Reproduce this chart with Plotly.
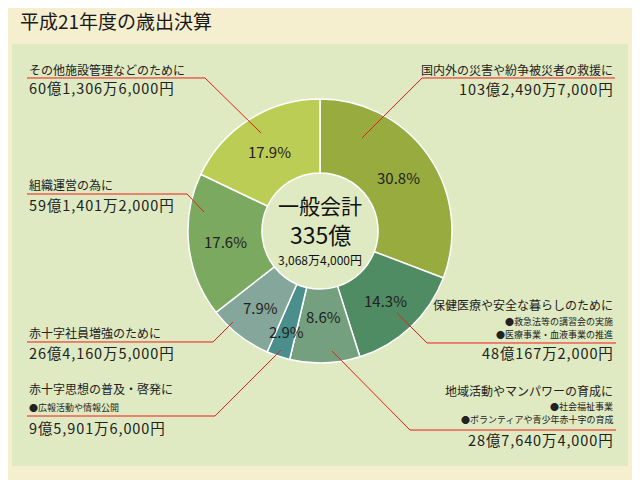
import math
import plotly.graph_objects as go

# 平成21年度 歳出決算 (一般会計)
purposes = ['国内外の災害や紛争被災者の救援に',
            '保健医療や安全な暮らしのために',
            '地域活動やマンパワーの育成に',
            '赤十字思想の普及・啓発に',
            '赤十字社員増強のために',
            '組織運営の為に',
            'その他施設管理などのために']
details = [[],
           ['●救急法等の講習会の実施', '●医療事業・血液事業の推進'],
           ['●社会福祉事業', '●ボランティアや青少年赤十字の育成'],
           ['●広報活動や情報公開'],
           [],
           [],
           []]
amounts = [10324907000, 4801672000, 2876404000, 959016000,
           2641605000, 5914012000, 6013066000]
colors = ['#97ab3e', '#4f8b63', '#74a080', '#4a8f8b', '#85a69b', '#7aa95f', '#bccd55']
total_label = ['一般会計', '335億', '3,068万4,000円']

W, H = 640, 480
OFF = 8  # page body margin
CX, CY, R = 320, 231, 132
FONT = 'Noto Sans CJK JP'
TXT = '#222222'


def px(x, y):
    return (x - OFF) / W, 1 - (y - OFF) / H


def yen(v):
    oku, rem = divmod(v, 100000000)
    man, rest = divmod(rem, 10000)
    s = f'{oku}億{man:,}万{rest:,}円'
    return '\u200a'.join(s)


def note(x, y, text, size, anchor='center', color=TXT):
    ax, ay = px(x, y)
    return dict(x=ax, y=ay, xref='paper', yref='paper', text=text, showarrow=False,
                xanchor=anchor, yanchor='middle', font=dict(family=FONT, size=size, color=color))


cx0, cy0 = px(CX - R, CY + R)
cx1, cy1 = px(CX + R, CY - R)

fig = go.Figure()
fig.add_trace(go.Pie(values=amounts, labels=purposes, sort=False, direction='clockwise',
                     rotation=0, hole=0.44, textinfo='none', hoverinfo='label+percent',
                     marker=dict(colors=colors, line=dict(color='white', width=1.5)),
                     domain=dict(x=[cx0, cx1], y=[cy0, cy1]),
                     showlegend=False))

ann = []
# percent labels placed on each slice's bisector
total = sum(amounts)
radius_k = [0.72, 0.72, 0.65, 0.80, 0.73, 0.72, 0.71]
cum = 0
for i, v in enumerate(amounts):
    mid = (cum + v / 2) / total * 2 * math.pi
    cum += v
    r = R * radius_k[i]
    ann.append(note(CX + r * math.sin(mid), CY - r * math.cos(mid),
                    f'{v / total * 100:.1f}%', 15))

# centre text
for t, yy, sz in zip(total_label, [205, 234, 259], [21, 23, 12]):
    ann.append(note(CX, yy, t, sz, color='#111111'))

# label blocks: (x, anchor, title y, detail ys, amount y)
blocks = [(615, 'right', 70, [], 89),
          (615, 'right', 304, [321, 334], 352),
          (615, 'right', 390, [406, 419], 439),
          (27, 'left', 388, [407], 427),
          (27, 'left', 332, [], 352),
          (27, 'left', 184, [], 204),
          (27, 'left', 69, [], 88)]
for i, (bx, anc, ty, dys, ay) in enumerate(blocks):
    ann.append(note(bx, ty, purposes[i], 12, anc))
    for d, dy in zip(details[i], dys):
        ann.append(note(bx, dy, d, 9, anc))
    ann.append(note(bx, ay, yen(amounts[i]), 14.5, anc))

# title
ann.append(note(18, 20, '平成21年度の歳出決算', 19, 'left', '#1a1a1a'))

shapes = []
x0, y0 = px(12, 44)
x1, y1 = px(628, 466)
shapes.append(dict(type='rect', xref='paper', yref='paper', x0=x0, y0=y1, x1=x1, y1=y0,
                   fillcolor='#dfeac2', line=dict(width=0), layer='below'))

# red leader lines (polylines in pixel coords)
leaders = [[(615, 78), (422, 78), (362, 138)],
           [(616, 343), (427, 343), (397, 313)],
           [(616, 430), (410, 430), (332, 351)],
           [(27, 416), (215, 416), (281, 350)],
           [(27, 342), (213, 342), (233, 322)],
           [(27, 194), (187, 194), (204, 212)],
           [(27, 78), (205, 78), (261, 133)]]
for pts in leaders:
    path = 'M ' + ' L '.join(f'{px(a, b)[0]:.4f},{px(a, b)[1]:.4f}' for a, b in pts)
    shapes.append(dict(type='path', xref='paper', yref='paper', path=path,
                       line=dict(color='#ee1c1c', width=1)))

fig.update_layout(width=W, height=H, margin=dict(l=0, r=0, t=0, b=0),
                  paper_bgcolor='#f6efcf', plot_bgcolor='#f6efcf',
                  annotations=ann, shapes=shapes)
fig.write_html('out.html')
